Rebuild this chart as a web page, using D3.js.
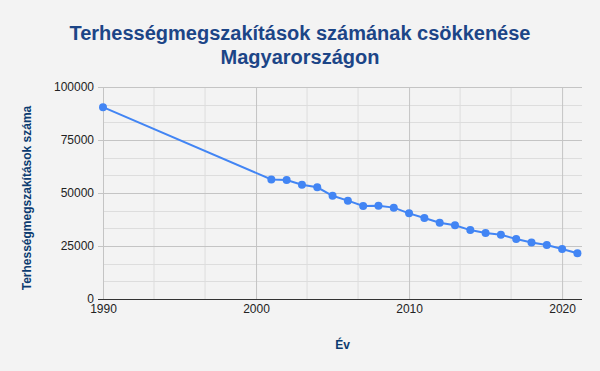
<!DOCTYPE html>
<html>
<head>
<meta charset="utf-8">
<script src="https://cdn.jsdelivr.net/npm/d3@7"></script>
<style>
  body { margin: 0; background: #f3f3f3; }
  svg { display: block; font-family: "Liberation Sans", Arial, sans-serif; }
  .tick-label { font-size: 12px; fill: #222; }
</style>
</head>
<body>
<div id="chart"></div>
<script>
const titleLines = ["Terhességmegszakítások számának csökkenése", "Magyarországon"];
const xTitle = "Év";
const yTitle = "Terhességmegszakítások száma";

const years = [1990, 2001, 2002, 2003, 2004, 2005, 2006, 2007, 2008, 2009, 2010,
    2011, 2012, 2013, 2014, 2015, 2016, 2017, 2018, 2019, 2020, 2021];
const abortions = [90500, 56400, 56100, 53900, 52700, 48700, 46400, 43900, 44000, 43100, 40400,
    38200, 36000, 34800, 32500, 31100, 30300, 28300, 26700, 25500, 23600, 21600];

const xTicks = [1990, 2000, 2010, 2020];
const yTicks = [0, 25000, 50000, 75000, 100000];

const width = 600, height = 371;
const margin = {top: 87, right: 18, bottom: 72, left: 103};
const w = width - margin.left - margin.right;
const h = height - margin.top - margin.bottom;

const svg = d3.select("#chart").append("svg")
    .attr("width", width)
    .attr("height", height);

svg.append("rect").attr("width", width).attr("height", height).attr("fill", "#f3f3f3");

// title
svg.append("g").selectAll("text")
    .data(titleLines)
    .enter().append("text")
    .attr("x", width / 2)
    .attr("y", (d, i) => 40 + i * 24)
    .attr("text-anchor", "middle")
    .attr("font-size", 20)
    .attr("font-weight", "bold")
    .attr("fill", "#1c4587")
    .text(d => d);

const x = d3.scaleLinear().domain([1990, 2021.3]).range([0, w]);
const y = d3.scaleLinear().domain([0, 100000]).range([h, 0]);

const plot = svg.append("g")
    .attr("transform", `translate(${margin.left},${margin.top})`);

// minor gridlines (thirds)
const xMinor = [];
for (let t = 1990; t < 2021.3; t += 10 / 3) if (!xTicks.some(v => Math.abs(v - t) < 0.01)) xMinor.push(t);
const yMinor = [];
for (let t = 0; t <= 100000; t += 25000 / 3) if (!yTicks.some(v => Math.abs(v - t) < 1)) yMinor.push(t);

plot.selectAll(".xminor").data(xMinor).enter().append("line")
    .attr("x1", d => x(d)).attr("x2", d => x(d))
    .attr("y1", 0).attr("y2", h)
    .attr("stroke", "#dddddd").attr("stroke-width", 1);

plot.selectAll(".yminor").data(yMinor).enter().append("line")
    .attr("x1", 0).attr("x2", w)
    .attr("y1", d => Math.round(y(d)) + 0.5).attr("y2", d => Math.round(y(d)) + 0.5)
    .attr("stroke", "#dddddd").attr("stroke-width", 1);

// major gridlines via axes
const yAxis = d3.axisLeft(y).tickValues(yTicks).tickSize(-w).tickFormat(d3.format("d"));
const xAxis = d3.axisBottom(x).tickValues(xTicks).tickSize(-h).tickFormat(d3.format("d"));

const gy = plot.append("g").call(yAxis);
gy.select(".domain").remove();
gy.selectAll(".tick line").attr("stroke", "#c4c4c4").attr("x1", -5);
gy.selectAll(".tick text").attr("class", "tick-label").attr("x", -9).attr("font-size", 12).attr("fill", "#222");

const gx = plot.append("g").attr("transform", `translate(0,${h})`).call(xAxis);
gx.select(".domain").remove();
gx.selectAll(".tick line").attr("stroke", "#c4c4c4");
gx.selectAll(".tick text").attr("class", "tick-label").attr("y", 5).attr("font-size", 12).attr("fill", "#222");

// baseline
plot.append("line")
    .attr("x1", -5).attr("x2", w)
    .attr("y1", y(0) + 0.5).attr("y2", y(0) + 0.5)
    .attr("stroke", "#333").attr("stroke-width", 1);

// data line
const line = d3.line().x((d, i) => x(years[i])).y(d => y(d));
plot.append("path")
    .datum(abortions)
    .attr("fill", "none")
    .attr("stroke", "#4285f4")
    .attr("stroke-width", 2)
    .attr("d", line);

plot.selectAll(".dot").data(abortions).enter().append("circle")
    .attr("cx", (d, i) => x(years[i]))
    .attr("cy", d => y(d))
    .attr("r", 4)
    .attr("fill", "#4285f4");

// axis titles
svg.append("text")
    .attr("x", margin.left + w / 2)
    .attr("y", 349)
    .attr("text-anchor", "middle")
    .attr("font-size", 12)
    .attr("font-weight", "bold")
    .attr("fill", "#0b3b70")
    .text(xTitle);

svg.append("text")
    .attr("transform", `translate(31,${margin.top + h / 2 + 5}) rotate(-90)`)
    .attr("text-anchor", "middle")
    .attr("font-size", 12)
    .attr("font-weight", "bold")
    .attr("fill", "#0b3b70")
    .text(yTitle);
</script>
</body>
</html>
